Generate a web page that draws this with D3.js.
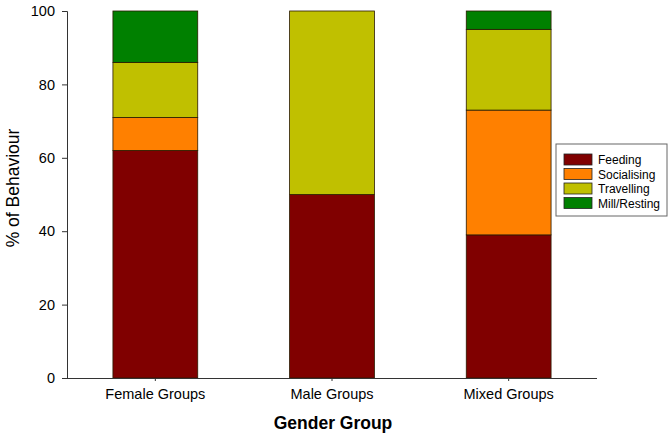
<!DOCTYPE html>
<html>
<head>
<meta charset="utf-8">
<script src="https://cdn.jsdelivr.net/npm/d3@7"></script>
<style>
  body { margin: 0; background: #fff; }
  text { font-family: Arial, "Liberation Sans", sans-serif; }
</style>
</head>
<body>
<script>
var groups = ['Female Groups', 'Male Groups', 'Mixed Groups'];
var behaviours = ['Feeding', 'Socialising', 'Travelling', 'Mill/Resting'];
var feeding = [62, 50, 39];
var socialising = [9, 0, 34];
var travelling = [15, 50, 22];
var millResting = [14, 0, 5];
var colours = ['#800000', '#ff8000', '#c0c000', '#008000'];
var yTicks = [0, 20, 40, 60, 80, 100];

var rows = groups.map(function(g, i) {
    return { group: g, 'Feeding': feeding[i], 'Socialising': socialising[i],
             'Travelling': travelling[i], 'Mill/Resting': millResting[i] };
});

var width = 672, height = 437;

let svg = d3.select('body').append('svg')
            .attr('width', width)
            .attr('height', height);

// scales
let xScale = d3.scaleBand()
    .domain(groups)
    .range([67, 597])
    .paddingInner(0.52)
    .paddingOuter(0.26);

let yScale = d3.scaleLinear()
    .domain([0, 100])
    .range([378, 11]);

let colour = d3.scaleOrdinal().domain(behaviours).range(colours);

let stacked = d3.stack().keys(behaviours)(rows);

// bars
svg.append('g').selectAll('g')
    .data(stacked)
    .join('g')
    .attr('fill', d => colour(d.key))
    .selectAll('rect')
    .data(d => d.filter(p => p[1] - p[0] > 0))
    .join('rect')
    .attr('x', d => xScale(d.data.group))
    .attr('y', d => yScale(d[1]))
    .attr('width', xScale.bandwidth())
    .attr('height', d => yScale(d[0]) - yScale(d[1]))
    .attr('stroke', '#2a1a00')
    .attr('stroke-width', 0.8);

// y axis
let yAxis = d3.axisLeft(yScale).tickValues(yTicks).tickSize(5).tickPadding(7);
let yG = svg.append('g')
    .attr('transform', 'translate(67,0)')
    .call(yAxis);
yG.select('.domain').attr('stroke', '#333');
yG.selectAll('.tick line').attr('stroke', '#333');
yG.selectAll('.tick text').attr('font-size', 14.5).attr('fill', '#000')
    .style('font-family', 'Arial, "Liberation Sans", sans-serif');

// x axis
let xAxis = d3.axisBottom(xScale).tickSize(3).tickSizeOuter(0).tickPadding(8);
let xG = svg.append('g')
    .attr('transform', 'translate(0,378)')
    .call(xAxis);
xG.select('.domain').attr('stroke', '#333').attr('d', 'M62,0.5H597');
xG.selectAll('.tick line').attr('stroke', '#333');
xG.selectAll('.tick text').attr('font-size', 14.5).attr('fill', '#000')
    .style('font-family', 'Arial, "Liberation Sans", sans-serif');

// axis titles
svg.append('text')
    .attr('transform', 'translate(19,188) rotate(-90)')
    .attr('text-anchor', 'middle')
    .attr('font-size', 17.5)
    .text('% of Behaviour');

svg.append('text')
    .attr('x', 333)
    .attr('y', 429)
    .attr('text-anchor', 'middle')
    .attr('font-size', 17.5)
    .attr('font-weight', 'bold')
    .text('Gender Group');

// legend
let legend = svg.append('g').attr('transform', 'translate(556,144)');
legend.append('rect')
    .attr('width', 111).attr('height', 72)
    .attr('fill', '#fff').attr('stroke', '#666');
let item = legend.selectAll('g.item')
    .data(behaviours)
    .join('g')
    .attr('class', 'item')
    .attr('transform', (d, i) => 'translate(8,' + (10 + i * 14.5) + ')');
item.append('rect')
    .attr('width', 28).attr('height', 11)
    .attr('fill', d => colour(d))
    .attr('stroke', '#222').attr('stroke-width', 0.8);
item.append('text')
    .attr('x', 34).attr('y', 10)
    .attr('font-size', 12)
    .text(d => d);
</script>
</body>
</html>
